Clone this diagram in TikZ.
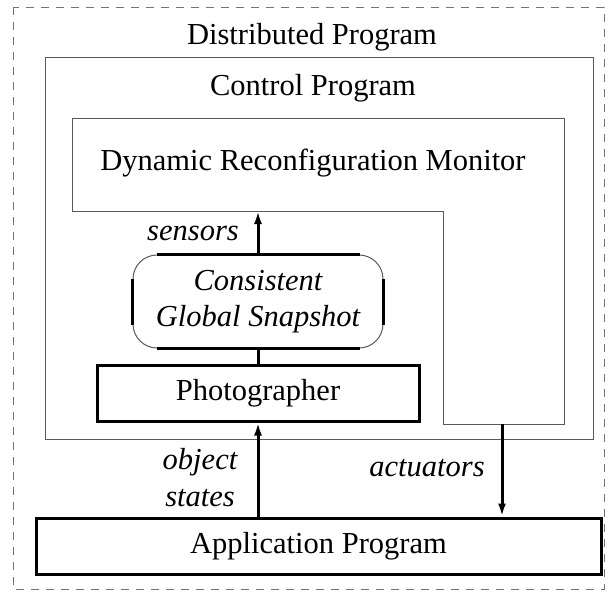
\documentclass[tikz,border=0pt]{standalone}
\usepackage{fontspec}
\setmainfont{Liberation Serif}
\usetikzlibrary{arrows.meta}

\tikzset{
  thinline/.style={draw=black!65, line width=1pt},
  thickbox/.style={draw, line width=3pt, inner sep=0pt},
  flow/.style={line width=3pt, -{Latex[length=13pt,width=8pt]}},
  lbl/.style={inner sep=0pt, font=\fontsize{30.5}{36}\selectfont},
  ilbl/.style={inner sep=0pt, align=center, font=\fontsize{30.5}{37}\selectfont\itshape},
}

\begin{document}
\begin{tikzpicture}[x=1pt,y=1pt,yscale=-1]
  \useasboundingbox (0,0) rectangle (616,592);

  % Frames
  \draw[draw=black!55, line width=1pt, dash pattern=on 8pt off 7pt] (13,7) rectangle (604,589);
  \draw[thinline] (45,57) rectangle (593,439);
  \draw[thinline] (72,118) -- (564,118) -- (564,424) -- (443,424) -- (443,211) -- (72,211) -- cycle;
  \coordinate (monbase) at (258,211);
  \coordinate (monfoot) at (502,424);

  % Labels
  \node[lbl] (dist) at (312,37) {Distributed Program};
  \node[lbl] (ctrl) at (313,88) {Control Program};
  \node[lbl] (monitor) at (313,163) {Dynamic Reconfiguration Monitor};

  % Boxes
  \node[thinline, rounded corners=24pt, minimum width=250pt, minimum height=93pt,
        inner sep=0pt, align=center, font=\fontsize{30.5}{36}\selectfont\itshape]
        (snap) at (258,301.5) {Consistent\\Global Snapshot};
  \draw[line width=3pt] ([xshift=24pt]snap.north west) -- ([xshift=-24pt]snap.north east);
  \draw[line width=3pt] ([xshift=24pt]snap.south west) -- ([xshift=-24pt]snap.south east);
  \draw[line width=3pt] ([yshift=24pt]snap.north west) -- ([yshift=-24pt]snap.south west);
  \draw[line width=3pt] ([yshift=24pt]snap.north east) -- ([yshift=-24pt]snap.south east);
  \node[thickbox, lbl, minimum width=322pt, minimum height=56pt] (photo) at (258,393) {Photographer};
  \node[thickbox, lbl, minimum width=565pt, minimum height=56pt] (app) at (318.5,546) {Application Program};

  % Connectors
  \draw[flow] (snap.north) -- (monbase);
  \draw[line width=3pt] (snap.south) -- (photo.north);
  \draw[flow] (app.north -| photo.south) -- (photo.south);
  \draw[flow] (monfoot) -- (app.north -| monfoot);

  % Connector labels
  \node[ilbl] (sens) at (193,233) {sensors};
  \node[ilbl] (objst) at (200,478) {object\\states};
  \node[ilbl] (act) at (427,468) {actuators};

\end{tikzpicture}
\end{document}
